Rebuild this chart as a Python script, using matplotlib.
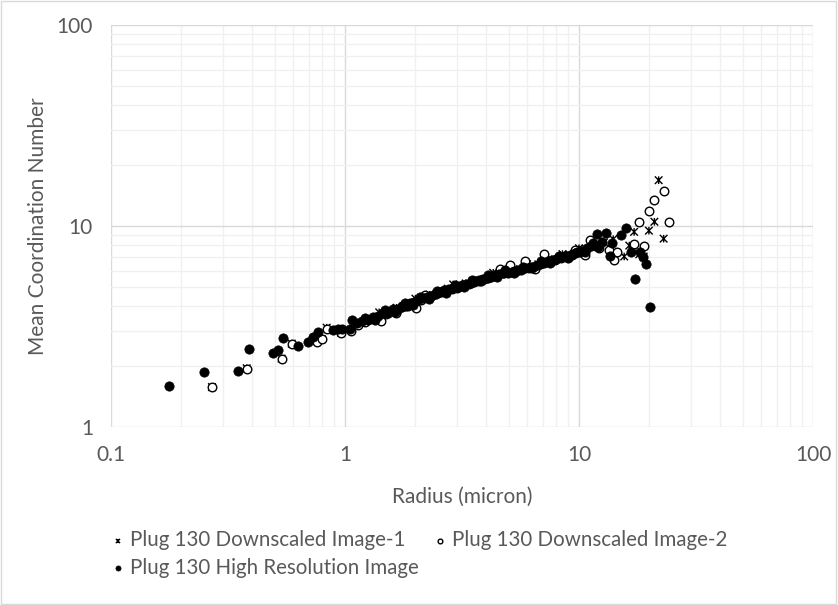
import numpy as np
import matplotlib
matplotlib.use("Agg")
import matplotlib.pyplot as plt
from matplotlib.path import Path
from matplotlib.patches import Rectangle

plt.rcParams['font.family'] = ['Lato', 'DejaVu Sans']

# Plug 130 Downscaled Image-1 (asterisk markers)
ds1_r = [0.27, 0.38, 0.536, 0.592, 0.757, 0.795, 0.835, 0.96, 1.06,
         1.15, 1.24, 1.35, 1.4, 1.46, 1.57, 1.66, 1.78, 1.92, 2.0, 2.04, 2.18, 2.3, 2.47, 2.6, 2.75,
         2.9, 2.95, 3.1, 3.28, 3.5, 3.7, 3.95, 4.15, 4.3, 4.45, 4.7, 5.0, 5.3, 5.6, 5.95, 6.0, 6.3, 6.7,
         7.0, 7.5, 7.9, 8.3, 8.5, 8.7, 9.1, 9.5, 9.9, 10.0, 10.3, 10.7, 11.3, 12.0, 12.8,
         14.0, 15.6, 16.4, 17.2, 18.1, 18.9, 19.9, 21.0, 21.9, 23.0]
ds1_cn = [1.58, 1.96, 2.19, 2.60, 2.68, 2.74, 3.12, 2.95, 3.04,
          3.28, 3.42, 3.50, 3.72, 3.66, 3.78, 3.92, 3.98, 4.08, 4.35, 4.25, 4.35, 4.55, 4.62, 4.72, 4.88,
          5.12, 4.95, 5.05, 5.18, 5.25, 5.38, 5.45, 5.62, 5.85, 5.68, 5.82, 5.95, 6.05, 6.10, 6.20, 6.45, 6.30, 6.45,
          6.60, 6.70, 6.82, 6.95, 7.25, 7.05, 7.18, 7.25, 7.40, 7.75, 7.58, 7.70, 7.85, 8.05, 8.30,
          8.60, 7.05, 7.99, 9.35, 7.23, 7.05, 9.48, 10.5, 16.9, 8.65]

# Plug 130 Downscaled Image-2 (open circles)
ds2_r = [0.27, 0.38, 0.536, 0.592, 0.757, 0.795, 0.835, 0.96, 1.06,
         1.14, 1.22, 1.33, 1.42, 1.5, 1.58, 1.65, 1.76, 1.86, 1.94, 2.01, 2.12, 2.2, 2.3,
         2.45, 2.58, 2.72, 2.86, 3.0, 3.2, 3.38, 3.55, 3.72, 3.92, 4.1, 4.35, 4.6, 4.8,
         5.07, 5.25, 5.5, 5.88, 6.1, 6.48, 6.8, 7.12, 7.5, 7.9, 8.4, 8.9, 9.3, 9.6, 10.2, 10.6,
         11.1, 12.2, 13.4, 14.1, 14.6, 17.2, 18.0, 19.0, 19.9, 20.9, 23.0, 24.2]
ds2_cn = [1.59, 1.95, 2.17, 2.58, 2.66, 2.73, 3.08, 2.93, 3.02,
          3.22, 3.32, 3.46, 3.38, 3.66, 3.76, 3.71, 3.94, 4.02, 4.12, 3.89, 4.26, 4.54, 4.46,
          4.58, 4.68, 4.80, 4.84, 4.94, 5.04, 5.14, 5.26, 5.34, 5.44, 5.54, 5.64, 6.14, 5.82,
          6.38, 5.96, 6.02, 6.72, 6.18, 6.12, 6.44, 7.26, 6.68, 6.80, 6.94, 7.08, 7.16, 7.62, 7.46, 7.20,
          8.50, 7.76, 7.60, 6.78, 7.43, 8.14, 10.5, 7.93, 11.9, 13.4, 14.9, 10.5]

# Plug 130 High Resolution Image (filled circles)
hr_r = [0.177, 0.249, 0.35, 0.388, 0.494, 0.519, 0.545, 0.632, 0.697, 0.732, 0.769,
        0.886, 0.93, 0.97, 1.05, 1.07,
        1.12, 1.18, 1.22, 1.25, 1.32, 1.35, 1.38, 1.45, 1.48, 1.52, 1.6, 1.63, 1.68, 1.75,
        1.8, 1.83, 1.9, 1.95, 1.98, 2.06, 2.1, 2.15, 2.24, 2.28, 2.33, 2.43, 2.48, 2.55,
        2.66, 2.7, 2.78, 2.9, 2.95, 3.03, 3.16, 3.22, 3.3, 3.45, 3.5, 3.6, 3.75, 3.8,
        3.9, 4.05, 4.1, 4.2, 4.38, 4.45, 4.55, 4.75, 4.85, 4.95, 5.15, 5.25, 5.4, 5.65,
        5.75, 5.9, 6.2, 6.3, 6.5, 6.8, 6.9, 7.1, 7.4, 7.55, 7.7, 8.0, 8.2, 8.4, 8.8, 8.95,
        9.2, 9.6, 9.8, 10.0, 10.4, 10.6, 10.8, 11.2, 11.5, 12.0,
        11.9, 12.5, 13.0, 13.6, 13.8, 15.1, 15.9, 16.6, 17.4, 18.3, 18.7, 19.4, 20.2]
hr_cn = [1.60, 1.87, 1.91, 2.44, 2.33, 2.42, 2.76, 2.54, 2.64, 2.81, 2.96,
         3.05, 3.08, 3.09, 3.09, 3.41,
         3.30, 3.36, 3.50, 3.40, 3.52, 3.42, 3.55, 3.68, 3.80, 3.70, 3.85, 3.72, 3.88, 3.98,
         4.12, 4.02, 4.12, 4.05, 4.18, 4.30, 4.42, 4.36, 4.45, 4.35, 4.50, 4.60, 4.75, 4.70,
         4.78, 4.65, 4.85, 4.92, 5.10, 5.00, 5.10, 4.98, 5.12, 5.22, 5.38, 5.30, 5.40, 5.30,
         5.48, 5.50, 5.68, 5.60, 5.70, 5.58, 5.76, 5.85, 6.02, 5.86, 5.92, 5.82, 6.00, 6.06,
         6.25, 6.15, 6.25, 6.15, 6.35, 6.48, 6.68, 6.55, 6.68, 6.55, 6.75, 6.88, 7.08, 6.98, 7.10, 6.95,
         7.20, 7.30, 7.45, 7.45, 7.55, 7.45, 7.75, 7.95, 8.20, 7.90,
         9.10, 8.35, 9.26, 7.12, 8.25, 9.05, 9.74, 7.45, 5.47, 7.43, 6.98, 6.47, 3.97]

labels = ["Plug 130 Downscaled Image-1", "Plug 130 Downscaled Image-2",
          "Plug 130 High Resolution Image"]

text_col = "#595959"

# excel style star marker: x plus vertical bar
star = Path([(-1, -1), (1, 1), (-1, 1), (1, -1), (0, -1), (0, 1)],
            [Path.MOVETO, Path.LINETO, Path.MOVETO, Path.LINETO, Path.MOVETO, Path.LINETO])

fig = plt.figure(figsize=(8.38, 6.05), dpi=100)
ax = fig.add_axes([111 / 838, 1 - 427 / 605, (813 - 111) / 838, (427 - 25) / 605])

h1 = ax.scatter(ds1_r, ds1_cn, marker=star, s=30, facecolor="none", edgecolor="black",
                linewidth=1.0, zorder=3)
h2 = ax.scatter(ds2_r, ds2_cn, marker="o", s=38, facecolor="white", edgecolor="black",
                linewidth=1.0, zorder=4)
h3 = ax.scatter(hr_r, hr_cn, marker="o", s=45, facecolor="black", edgecolor="black",
                linewidth=0.5, zorder=5)

ax.set_xscale("log")
ax.set_yscale("log")
ax.set_xlim(0.1, 100)
ax.set_ylim(1, 100)

ax.set_xticks([0.1, 1, 10, 100], ["0.1", "1", "10", "100"])
ax.set_yticks([1, 10, 100], ["1", "10", "100"])
ax.tick_params(which="both", length=0, colors=text_col, labelsize=15)
ax.tick_params(axis="y", pad=13)
ax.tick_params(axis="x", pad=13)

ax.grid(which="major", color="#d9d9d9", linewidth=1.0)
ax.grid(which="minor", color="#f0f0f0", linewidth=1.0)
ax.set_axisbelow(True)
for sp in ax.spines.values():
    sp.set_visible(False)

ax.set_xlabel("Radius (micron)", fontsize=15, color=text_col)
ax.set_ylabel("Mean Coordination Number", fontsize=15, color=text_col)
ax.xaxis.set_label_coords(0.5, (427 - 497) / 402)
ax.xaxis.label.set_va("center")
ax.yaxis.set_label_coords((38 - 111) / 702, 0.5)
ax.yaxis.label.set_va("center")

# row-major order in a 2-column legend
leg = fig.legend([h1, h3, h2], [labels[0], labels[2], labels[1]], ncol=2,
                 loc="center", bbox_to_anchor=(0.5, 1 - 554 / 605), frameon=False,
                 fontsize=14.8, markerscale=0.55, handletextpad=0.25, columnspacing=0.65,
                 labelspacing=0.35, handlelength=0.7, labelcolor=text_col)

fig.patches.append(Rectangle((0.001, 0.001), 0.997, 0.997, transform=fig.transFigure,
                             fill=False, edgecolor="#d9d9d9", linewidth=1.0))

fig.savefig("out.png", dpi=100)
